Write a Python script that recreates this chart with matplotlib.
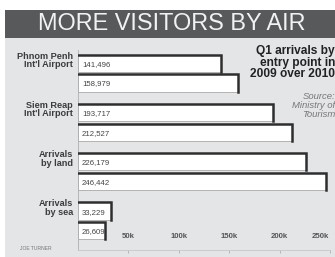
import matplotlib
matplotlib.use("Agg")
import matplotlib.pyplot as plt
from matplotlib.patches import Rectangle
from matplotlib.transforms import blended_transform_factory

# Data
groups = ["Phnom Penh\nInt'l Airport", "Siem Reap\nInt'l Airport", "Arrivals\nby land", "Arrivals\nby sea"]
q1_2009 = [141496, 193717, 226179, 33229]
q1_2010 = [158979, 212527, 246442, 26609]
tick_vals = [50000, 100000, 150000, 200000, 250000]
tick_labels = ["50k", "100k", "150k", "200k", "250k"]

W, H = 335, 257
fig = plt.figure(figsize=(W / 100, H / 100), dpi=100)
fig.patch.set_facecolor("white")

def fx(px):
    return px / W

def fy(py):
    return 1 - py / H

narrow = ["Liberation Sans Narrow", "Liberation Sans", "DejaVu Sans"]

# background panel and title bar
fig.patches.append(Rectangle((fx(5), 0), 1 - fx(5), fy(10), transform=fig.transFigure,
                             facecolor="#e4e5e7", edgecolor="none", zorder=-2))
fig.patches.append(Rectangle((fx(5), fy(38)), 1 - fx(5), fy(10) - fy(38), transform=fig.transFigure,
                             facecolor="#58595b", edgecolor="none", zorder=-1))
title = fig.text(fx(172), fy(24), "MORE VISITORS BY AIR", color="#f2f2f2", fontsize=15.5,
                 family=narrow, ha="center", va="center")
# fit title to the width used in the reference (~267 px)
fig.canvas.draw()
tw = title.get_window_extent().width
title.set_fontsize(15.5 * 267 / tw)

# plot area: x=0 at px 78, 250k at px 330; rows from px 50 to 250
ax = fig.add_axes([fx(78), fy(250), fx(330) - fx(78), fy(50) - fy(250)])
ax.set_zorder(2)
ax.set_facecolor("none")
ax.set_xlim(0, 250000)
ax.set_ylim(3.59, -0.47)

off = 0.2
hgt = 0.35
for i in range(len(groups)):
    for v, y in ((q1_2009[i], i - off), (q1_2010[i], i + off)):
        ax.barh(y, v, height=hgt, color="white", edgecolor="#9a9a9a", linewidth=0.5, zorder=2)
        # dark shadow on top and right edge
        ax.plot([0, v, v], [y - hgt / 2, y - hgt / 2, y + hgt / 2], color="#2e2e2e",
                linewidth=1.8, solid_joinstyle="miter", zorder=3)
        ax.text(4000, y + 0.02, f"{v:,}", fontsize=5.6, color="#444444", family=narrow,
                ha="left", va="center", zorder=4)
    ax.text(-5000, i - 0.26, groups[i], fontsize=6.6, color="#3c3c3c", family=narrow,
            fontweight="bold", ha="right", va="center", linespacing=0.9, clip_on=False)

for s in ["top", "right"]:
    ax.spines[s].set_visible(False)
ax.spines["left"].set_color("#b0b0b0")
ax.spines["left"].set_linewidth(0.6)
ax.spines["bottom"].set_color("#c8c8c8")
ax.spines["bottom"].set_linewidth(0.6)
ax.set_yticks([])
ax.set_xticks(tick_vals)
ax.set_xticklabels([])
ax.tick_params(axis="x", length=2, color="#b0b0b0", width=0.6)

trans = blended_transform_factory(ax.transData, ax.transAxes)
for t, lab in zip(tick_vals, tick_labels):
    ax.text(min(t, 240000), 0.065, lab, transform=trans, fontsize=5.6, color="#555555",
            family=narrow, fontweight="bold", ha="center", va="center")

# annotation
fig.text(fx(335), fy(45), "Q1 arrivals by\nentry point in\n2009 over 2010", fontsize=8.6,
         color="#222222", family=narrow, fontweight="bold", ha="right", va="top", linespacing=0.95)
fig.text(fx(335), fy(92), "Source:\nMinistry of\nTourism", fontsize=6.8, color="#777777",
         family=narrow, style="italic", ha="right", va="top", linespacing=1.0)
fig.text(fx(20), fy(248), "JOE TURNER", fontsize=3.6, color="#777777", family=narrow,
         ha="left", va="center")

fig.savefig("out.png", dpi=100)
